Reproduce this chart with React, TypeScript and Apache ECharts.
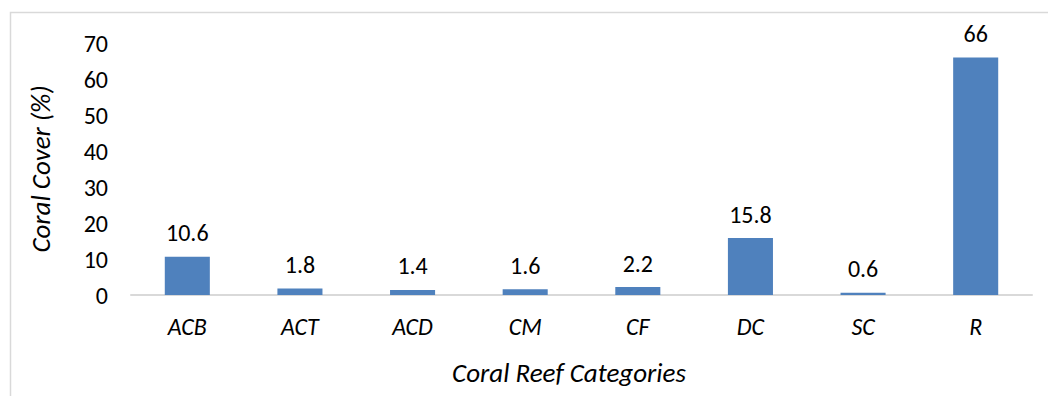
import React, { useEffect, useRef } from "react";
import * as echarts from "echarts";

const categories = ["ACB", "ACT", "ACD", "CM", "CF", "DC", "SC", "R"];
const coverValues = [10.6, 1.8, 1.4, 1.6, 2.2, 15.8, 0.6, 66];
const yTicks = { min: 0, max: 70, interval: 10 };

const FONT = "Carlito, 'Open Sans', 'Noto Sans', sans-serif";

export default function App() {
  const ref = useRef<HTMLDivElement>(null);
  useEffect(() => {
    if (!ref.current) return;
    const chart = echarts.init(ref.current, undefined, { renderer: "svg" });
    chart.setOption({
      animation: false,
      backgroundColor: "#ffffff",
      graphic: [
        {
          type: "rect",
          shape: { x: 10.5, y: 12.5, width: 1200, height: 600 },
          style: { fill: "none", stroke: "#d9d9d9", lineWidth: 1.5 },
          silent: true,
        },
      ],
      grid: { left: 131, right: 16, top: 43, bottom: 101, containLabel: false },
      xAxis: {
        type: "category",
        data: categories,
        axisLine: { show: true, lineStyle: { color: "#d9d9d9", width: 2 } },
        axisTick: { show: false },
        axisLabel: {
          margin: 19,
          fontFamily: FONT,
          fontSize: 24,
          fontStyle: "italic",
          color: "#000000",
        },
        name: "Coral Reef Categories",
        nameLocation: "middle",
        nameGap: 64,
        nameTextStyle: {
          fontFamily: FONT,
          fontSize: 27,
          fontStyle: "italic",
          color: "#000000",
          padding: [0, 25, 0, 0],
        },
      },
      yAxis: {
        type: "value",
        min: yTicks.min,
        max: yTicks.max,
        interval: yTicks.interval,
        splitLine: { show: false },
        axisLine: { show: false },
        axisTick: { show: false },
        axisLabel: { margin: 23, fontFamily: FONT, fontSize: 24, color: "#000000" },
        name: "Coral Cover (%)",
        nameLocation: "middle",
        nameGap: 77,
        nameTextStyle: { fontFamily: FONT, fontSize: 27, fontStyle: "italic", color: "#000000" },
      },
      series: [
        {
          type: "bar",
          data: coverValues,
          barWidth: "40%",
          itemStyle: { color: "#4f81bd" },
          label: {
            show: true,
            position: "top",
            distance: 12,
            fontFamily: FONT,
            fontSize: 24,
            color: "#000000",
          },
        },
      ],
    });
    return () => chart.dispose();
  }, []);
  return (
    <div
      ref={ref}
      style={{ position: "absolute", left: 0, top: 0, width: 1048, height: 396 }}
    />
  );
}
